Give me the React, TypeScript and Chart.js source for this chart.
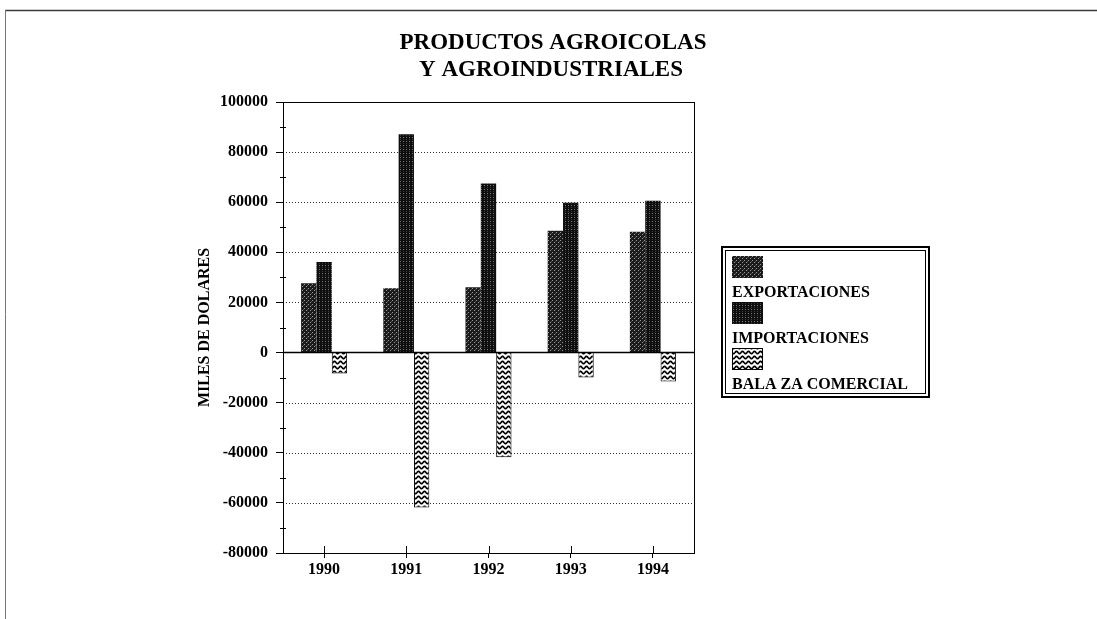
import React, { useEffect, useRef } from 'react';
import { Chart, registerables } from 'chart.js';

Chart.register(...registerables);

const titleLines = ['PRODUCTOS AGROICOLAS', 'Y AGROINDUSTRIALES'];
const yAxisTitle = 'MILES DE DOLARES';
const categories = ['1990', '1991', '1992', '1993', '1994'];
const seriesNames = ['EXPORTACIONES', 'IMPORTACIONES', 'BALA ZA COMERCIAL'];
const exportaciones = [27700, 25700, 26100, 48600, 48200];
const importaciones = [36100, 87100, 67500, 59800, 60600];
const balanza = [-8400, -61800, -41800, -10000, -11600];
const yMin = -80000;
const yMax = 100000;
const yStep = 20000;
const yMinorStep = 10000;

const SERIF = '"Liberation Serif", "Times New Roman", serif';

function makePattern(kind: string): CanvasPattern | string {
  const c = document.createElement('canvas');
  const g = c.getContext('2d');
  if (!g) return '#333';
  if (kind === 'exp') {
    c.width = 4; c.height = 4;
    g.fillStyle = '#1a1a1a'; g.fillRect(0, 0, 4, 4);
    g.fillStyle = '#9a9a9a'; g.fillRect(0, 0, 1, 1); g.fillRect(2, 2, 1, 1);
    g.fillStyle = '#505050'; g.fillRect(3, 1, 1, 1);
  } else if (kind === 'imp') {
    c.width = 3; c.height = 4;
    g.fillStyle = '#0e0e0e'; g.fillRect(0, 0, 3, 4);
    g.fillStyle = '#7a7a7a'; g.fillRect(1, 1, 1, 1);
    g.fillStyle = '#3c3c3c'; g.fillRect(1, 3, 1, 1);
  } else {
    c.width = 6; c.height = 5;
    g.fillStyle = '#ffffff'; g.fillRect(0, 0, 6, 5);
    g.strokeStyle = '#000'; g.lineWidth = 1.7;
    g.beginPath();
    for (let x = -1; x <= 7; x += 0.25) {
      const y = 2.5 + 1.1 * Math.sin((x / 6) * 2 * Math.PI);
      if (x === -1) g.moveTo(x, y); else g.lineTo(x, y);
    }
    g.stroke();
  }
  return g.createPattern(c, 'repeat') || '#333';
}

export default function App() {
  const ref = useRef<HTMLCanvasElement>(null);

  useEffect(() => {
    const canvas = ref.current;
    if (!canvas) return;

    const decor = {
      id: 'decor',
      beforeDatasetsDraw(chart: any) {
        const { ctx, chartArea } = chart;
        const y = chart.scales.y;
        ctx.save();
        ctx.strokeStyle = '#333';
        ctx.lineWidth = 1;
        ctx.setLineDash([1, 2]);
        for (let v = yMin + yStep; v < yMax; v += yStep) {
          if (v === 0) continue;
          const py = Math.round(y.getPixelForValue(v)) + 0.5;
          ctx.beginPath();
          ctx.moveTo(chartArea.left, py);
          ctx.lineTo(chartArea.right, py);
          ctx.stroke();
        }
        ctx.restore();
      },
      afterDatasetsDraw(chart: any) {
        const { ctx, chartArea } = chart;
        const y = chart.scales.y;
        const x = chart.scales.x;
        ctx.save();
        const pz = y.getPixelForValue(0);
        ctx.strokeStyle = '#000';
        ctx.lineWidth = 1.5;
        ctx.beginPath();
        ctx.moveTo(chartArea.left, pz);
        ctx.lineTo(chartArea.right, pz);
        ctx.stroke();
        ctx.lineWidth = 1;
        ctx.strokeRect(chartArea.left + 0.5, chartArea.top + 0.5, chartArea.right - chartArea.left, chartArea.bottom - chartArea.top);
        for (let v = yMin + yMinorStep; v < yMax; v += yStep) {
          const py = Math.round(y.getPixelForValue(v)) + 0.5;
          ctx.beginPath();
          ctx.moveTo(chartArea.left - 3, py);
          ctx.lineTo(chartArea.left + 3, py);
          ctx.stroke();
        }
        for (let i = 0; i < categories.length; i++) {
          const px = Math.round(x.getPixelForValue(i)) + 0.5;
          ctx.beginPath();
          ctx.moveTo(px, chartArea.bottom - 7);
          ctx.lineTo(px, chartArea.bottom);
          ctx.stroke();
        }
        ctx.restore();
      },
      afterDraw(chart: any) {
        const { ctx, chartArea } = chart;
        ctx.save();
        ctx.strokeStyle = '#3a3a3a';
        ctx.lineWidth = 1.5;
        ctx.beginPath();
        ctx.moveTo(5, 10.5);
        ctx.lineTo(1097, 10.5);
        ctx.stroke();
        ctx.strokeStyle = '#777';
        ctx.lineWidth = 1;
        ctx.beginPath();
        ctx.moveTo(5.5, 10);
        ctx.lineTo(5.5, 619);
        ctx.stroke();

        ctx.fillStyle = '#000';
        ctx.font = `bold 23px ${SERIF}`;
        ctx.textAlign = 'center';
        ctx.textBaseline = 'middle';
        ctx.fillText(titleLines[0], 553, 43);
        ctx.fillText(titleLines[1], 551, 70);

        ctx.save();
        ctx.translate(205, (chartArea.top + chartArea.bottom) / 2);
        ctx.rotate(-Math.PI / 2);
        ctx.font = `bold 16px ${SERIF}`;
        ctx.textAlign = 'center';
        ctx.textBaseline = 'middle';
        ctx.fillText(yAxisTitle, 0, 0);
        ctx.restore();

        const lx = 722, ly = 247, lw = 207, lh = 150;
        ctx.strokeStyle = '#000';
        ctx.lineWidth = 2;
        ctx.strokeRect(lx, ly, lw, lh);
        ctx.lineWidth = 1;
        ctx.strokeRect(lx + 3.5, ly + 3.5, lw - 7, lh - 7);
        ctx.font = `bold 16px ${SERIF}`;
        ctx.textAlign = 'left';
        ctx.textBaseline = 'middle';
        chart.data.datasets.forEach((ds: any, i: number) => {
          const sy = 256 + i * 46;
          ctx.fillStyle = ds.backgroundColor;
          ctx.fillRect(732, sy, 31, 22);
          if (i === 2) {
            ctx.strokeStyle = '#000';
            ctx.lineWidth = 1;
            ctx.strokeRect(732.5, sy + 0.5, 30, 21);
          }
          ctx.fillStyle = '#000';
          ctx.fillText(ds.label, 732, sy + 37);
        });
        ctx.restore();
      },
    };

    const tickFont = { family: SERIF, size: 16, weight: 'bold' as const };

    const chart = new Chart(canvas, {
      type: 'bar',
      data: {
        labels: categories,
        datasets: [
          { label: seriesNames[0], data: exportaciones, backgroundColor: makePattern('exp') as any, borderColor: '#000', borderWidth: 0 },
          { label: seriesNames[1], data: importaciones, backgroundColor: makePattern('imp') as any, borderColor: '#000', borderWidth: 0 },
          { label: seriesNames[2], data: balanza, backgroundColor: makePattern('bal') as any, borderColor: '#000', borderWidth: 1 },
        ],
      },
      options: {
        responsive: false,
        maintainAspectRatio: false,
        animation: false,
        layout: { padding: { left: 0, right: 403, top: 102, bottom: 0 } },
        plugins: {
          legend: { display: false },
          title: { display: false },
          tooltip: { enabled: false },
        },
        datasets: { bar: { categoryPercentage: 0.56, barPercentage: 1 } },
        scales: {
          x: {
            grid: { display: true, drawOnChartArea: false, offset: false, tickLength: 5, color: '#000' },
            border: { display: true, color: '#000', width: 1 },
            ticks: { font: tickFont, color: '#000', padding: 2, maxRotation: 0, autoSkip: false },
            afterFit: (s: any) => { s.height = 66; },
          },
          y: {
            min: yMin,
            max: yMax,
            grid: { display: true, drawOnChartArea: false, tickLength: 7, color: '#000' },
            border: { display: true, color: '#000', width: 1 },
            ticks: { stepSize: yStep, font: tickFont, color: '#000', padding: 8, callback: (v: any) => String(v) },
            afterFit: (s: any) => { s.width = 283; },
          },
        },
      },
      plugins: [decor],
    });

    return () => chart.destroy();
  }, []);

  return (
    <div style={{ position: 'absolute', left: 0, top: 0, width: 1097, height: 619, background: '#fff' }}>
      <canvas ref={ref} width={1097} height={619} style={{ display: 'block', width: 1097, height: 619 }} />
    </div>
  );
}
